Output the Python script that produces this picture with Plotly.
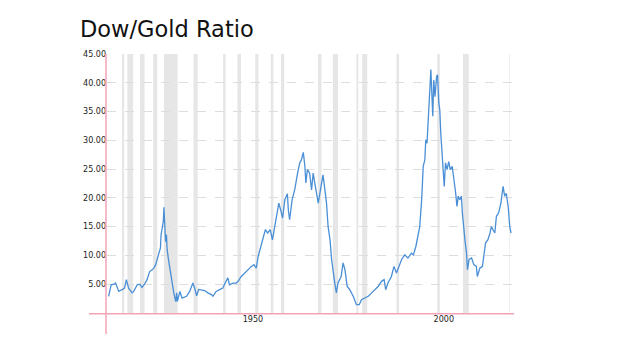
import plotly.graph_objects as go

# Dow/Gold ratio
dates = [
    "1915-02", "1915-10", "1916-07", "1916-12", "1917-10", "1918-09", "1919-04", "1919-10",
    "1920-05", "1921-04", "1921-09", "1922-08", "1923-04", "1923-11", "1924-07", "1925-03",
    "1925-11", "1926-07", "1926-12", "1927-06", "1927-11", "1928-04", "1928-09", "1928-11",
    "1929-02", "1929-06", "1929-08", "1929-10", "1930-01", "1930-04", "1930-06", "1930-11",
    "1931-05", "1931-10", "1932-03", "1932-09", "1932-12", "1933-02", "1933-10", "1934-05",
    "1935-07", "1936-05", "1937-03", "1937-08", "1938-03", "1938-09", "1939-05", "1940-04",
    "1941-02", "1942-01", "1942-06", "1943-04", "1944-03", "1945-01", "1945-11", "1946-05",
    "1946-10", "1947-09", "1948-07", "1949-01", "1949-11", "1950-09", "1951-08", "1952-07",
    "1953-03", "1953-10", "1954-04", "1955-01", "1955-08", "1956-03", "1956-10", "1957-06",
    "1958-01", "1958-07", "1959-02", "1959-09", "1960-03", "1960-09", "1961-04", "1961-12",
    "1962-03", "1962-07", "1963-03", "1963-11", "1964-08", "1965-03", "1965-08", "1966-02",
    "1966-07", "1966-10", "1967-03", "1967-10", "1968-04", "1968-09", "1969-02", "1969-07",
    "1970-01", "1970-08", "1971-04", "1971-10", "1972-03", "1972-08", "1973-02", "1973-07",
    "1973-12", "1974-05", "1974-10", "1975-03", "1976-01", "1976-07", "1977-01", "1977-08",
    "1978-04", "1979-03", "1980-01", "1980-10", "1981-05", "1982-03", "1983-02", "1984-01",
    "1984-11", "1985-09", "1986-08", "1987-04", "1987-09", "1988-04", "1989-03", "1989-11",
    "1990-07", "1991-01", "1991-11", "1992-09", "1993-07", "1994-06", "1994-12", "1995-08",
    "1996-03", "1996-08", "1997-02", "1997-07", "1997-12", "1998-03", "1998-07", "1998-10",
    "1999-03", "1999-07", "1999-10", "2000-01", "2000-04", "2000-08", "2001-01", "2001-04",
    "2001-08", "2001-11", "2002-02", "2002-06", "2002-09", "2003-01", "2003-05", "2003-10",
    "2004-03", "2004-08", "2005-02", "2005-07", "2006-01", "2006-05", "2006-09", "2007-02",
    "2007-07", "2007-10", "2008-03", "2008-06", "2008-11", "2009-02", "2009-07", "2010-03",
    "2010-10", "2011-06", "2011-09", "2012-05", "2013-01", "2013-05", "2013-11", "2014-06",
    "2015-01", "2015-05", "2015-10", "2016-04", "2016-09", "2017-04", "2017-11", "2018-06",
    "2018-11", "2019-04", "2019-10", "2020-03", "2020-07",
]
ratio = [
    2.9, 4.9, 5.0, 5.2, 3.75, 4.05, 4.3, 5.8,
    4.3, 3.5, 3.75, 4.9, 5.0, 4.45, 5.0, 5.8,
    7.2, 7.5, 7.8, 8.4, 9.55, 10.4, 11.3, 13.6,
    15.0, 15.9, 18.35, 15.6, 12.4, 13.6, 11.0, 9.0,
    6.65, 5.2, 3.5, 2.0, 3.5, 2.0, 3.75, 2.6,
    2.9, 3.75, 5.2, 4.4, 3.0, 4.1, 4.05, 3.9,
    3.5, 3.2, 2.9, 3.75, 4.05, 4.35, 5.5, 6.1,
    4.9, 5.2, 5.2, 5.5, 6.35, 6.95, 7.5, 8.1,
    8.4, 7.8, 9.8, 11.6, 13.3, 14.5, 13.9, 14.5,
    12.7, 14.5, 16.8, 19.1, 17.9, 16.5, 19.7, 20.7,
    17.9, 16.2, 19.7, 21.4, 24.3, 26.1, 26.6, 27.9,
    25.5, 22.6, 24.9, 24.3, 21.4, 24.3, 22.6, 20.8,
    19.1, 21.4, 24.0, 21.4, 19.1, 15.0, 12.7, 9.3,
    6.95, 5.2, 3.5, 5.2, 6.35, 8.7, 7.5, 4.6,
    4.05, 2.9, 1.45, 1.45, 2.3, 2.6, 2.9, 3.5,
    4.05, 4.6, 5.5, 5.8, 4.05, 5.2, 6.35, 8.1,
    6.95, 7.8, 9.3, 10.1, 9.55, 10.4, 10.1, 11.6,
    13.9, 15.0, 19.7, 25.5, 26.6, 30.1, 29.5, 32.4,
    37.1, 42.3, 38.2, 34.2, 40.5, 37.6, 41.1, 41.4,
    36.5, 35.3, 31.3, 27.8, 24.3, 22.0, 26.1, 24.9,
    26.3, 24.9, 25.5, 23.7, 20.8, 18.5, 20.3, 19.7,
    20.3, 17.4, 13.9, 12.7, 10.4, 7.5, 9.3, 9.55,
    8.4, 8.1, 6.35, 7.8, 8.1, 9.8, 12.2, 12.7,
    13.9, 15.0, 14.5, 13.9, 16.8, 17.4, 19.1, 22.0,
    20.3, 20.8, 18.5, 15.0, 13.9,
]

# US recessions (shaded bands)
rec_start = ["1918-08", "1920-01", "1923-05", "1926-10", "1929-08", "1937-05", "1945-02",
             "1948-11", "1953-07", "1957-08", "1960-04", "1969-12", "1973-11", "1980-01",
             "1981-07", "1990-07", "2001-03", "2007-12", "2020-02"]
rec_end = ["1919-03", "1921-07", "1924-07", "1927-11", "1933-03", "1938-06", "1945-10",
           "1949-10", "1954-05", "1958-04", "1961-02", "1970-11", "1975-03", "1980-07",
           "1982-11", "1991-03", "2001-11", "2009-06", "2020-04"]

y_ticks = [0, 5, 10, 15, 20, 25, 30, 35, 40, 45]
y_ticktext = ["", "5.00", "10.00", "15.00", "20.00", "25.00", "30.00", "35.00", "40.00", "45.00"]
x_tickvals = ["1950-01-01", "2000-01-01"]
x_ticktext = ["1950", "2000"]

fig = go.Figure()
fig.add_trace(go.Scatter(
    x=dates, y=ratio, mode="lines",
    line=dict(color="#4a8fd6", width=1.3),
    hoverinfo="skip", showlegend=False,
))

shapes = []
for s, e in zip(rec_start, rec_end):
    shapes.append(dict(type="rect", xref="x", yref="paper", x0=s, x1=e, y0=0, y1=1,
                       fillcolor="#e6e6e6", line=dict(width=0), layer="below"))
pink = "#f4a3b6"
# vertical axis line
shapes.append(dict(type="line", xref="paper", yref="paper", x0=-0.0025, x1=-0.0025,
                   y0=-0.081, y1=1.0, line=dict(color=pink, width=1.5), layer="above"))
# horizontal axis line
shapes.append(dict(type="line", xref="paper", yref="paper", x0=-0.0444, x1=1.005,
                   y0=-0.003, y1=-0.003, line=dict(color=pink, width=1.5), layer="above"))

fig.update_layout(
    width=624, height=351,
    margin=dict(l=107, r=112, t=54, b=38),
    paper_bgcolor="white", plot_bgcolor="white",
    title=dict(text="Dow/Gold Ratio", x=80 / 624, xanchor="left", xref="container",
               y=1 - 29 / 351, yanchor="middle", yref="container",
               font=dict(family="DejaVu Sans", size=22.5, color="#111111")),
    shapes=shapes,
    xaxis=dict(type="date", range=["1914-09-01", "2020-10-01"], showgrid=False,
               zeroline=False, showline=False, tickvals=x_tickvals, ticktext=x_ticktext,
               ticklabelshift=11, ticks="",
               tickfont=dict(family="DejaVu Sans", size=8, color="#222222")),
    yaxis=dict(range=[0, 45], tickvals=y_ticks, ticktext=y_ticktext, showgrid=True,
               gridcolor="#dddddd", griddash="dash", gridwidth=1, zeroline=False,
               showline=False, ticks="",
               tickfont=dict(family="DejaVu Sans", size=8, color="#222222")),
)

fig.write_html("out.html")
